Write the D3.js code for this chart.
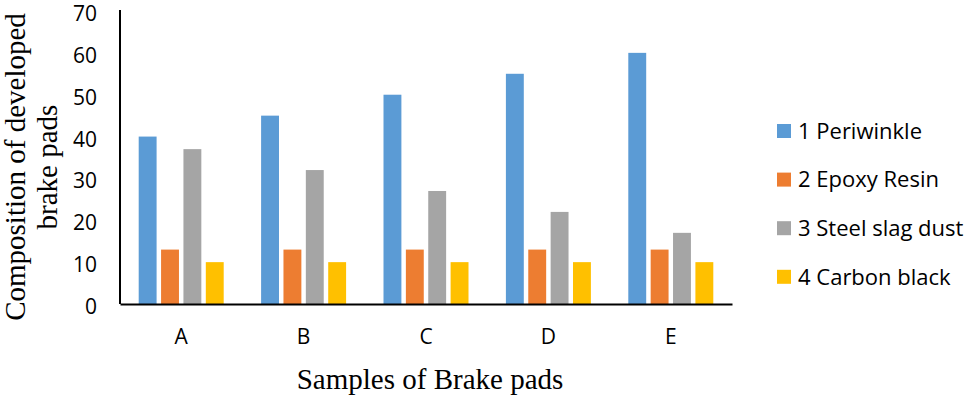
<!DOCTYPE html>
<html>
<head>
<meta charset="utf-8">
<script src="https://cdn.jsdelivr.net/npm/d3@7"></script>
<style>
  body { margin: 0; background: #fff; }
  svg { display: block; }
</style>
</head>
<body>
<div id="chart"></div>
<script>
// Data
const samples = ['A', 'B', 'C', 'D', 'E'];
const seriesNames = ['1 Periwinkle', '2 Epoxy Resin', '3 Steel slag dust', '4 Carbon black'];
const periwinkle = [40, 45, 50, 55, 60];
const epoxyResin = [13, 13, 13, 13, 13];
const steelSlagDust = [37, 32, 27, 22, 17];
const carbonBlack = [10, 10, 10, 10, 10];
const yTicks = [0, 10, 20, 30, 40, 50, 60, 70];
const colors = ['#5B9BD5', '#ED7D31', '#A5A5A5', '#FFC000'];

const seriesValues = [periwinkle, epoxyResin, steelSlagDust, carbonBlack];
const rows = samples.map((s, i) => ({
    sample: s,
    values: seriesNames.map((name, j) => ({ name, value: seriesValues[j][i] }))
}));

const W = 970, H = 397;
const margin = { top: 11, right: 238, bottom: 94, left: 120 };
const groupWidth = 85;

const svg = d3.select('#chart')
    .append('svg')
    .attr('width', W)
    .attr('height', H);

const xScale = d3.scaleBand()
    .domain(samples)
    .range([margin.left, W - margin.right]);

const x1 = d3.scaleBand()
    .domain(seriesNames)
    .range([0, groupWidth])
    .paddingInner(0.2);

const yScale = d3.scaleLinear()
    .domain([0, 70])
    .range([H - margin.bottom + 1, margin.top]);

const uiFont = "'Open Sans', 'Liberation Sans', sans-serif";
const serifFont = "'Liberation Serif', 'DejaVu Serif', serif";

// Bars
svg.append('g')
    .selectAll('g')
    .data(rows)
    .join('g')
    .attr('transform', d => `translate(${xScale(d.sample) + (xScale.bandwidth() - groupWidth) / 2},0)`)
    .selectAll('rect')
    .data(d => d.values)
    .join('rect')
        .attr('x', d => x1(d.name))
        .attr('width', x1.bandwidth())
        .attr('y', d => yScale(d.value))
        .attr('height', d => yScale(0) - yScale(d.value))
        .attr('fill', (d, i) => colors[i]);

// Y axis
const yAxis = svg.append('g')
    .attr('transform', `translate(${margin.left},0)`)
    .call(d3.axisLeft(yScale).tickValues(yTicks).tickSize(0).tickPadding(23));
yAxis.select('.domain').attr('stroke', '#000').attr('stroke-width', 2)
    .attr('d', `M0,${yScale(70) - 1}V${yScale(0)}`);
yAxis.selectAll('text')
    .attr('dy', '0.45em')
    .style('font-family', uiFont)
    .style('font-size', '21px')
    .attr('fill', '#000');

// X axis
const xAxis = svg.append('g')
    .attr('transform', `translate(0,${yScale(0)})`)
    .call(d3.axisBottom(xScale).tickSize(0).tickPadding(25));
xAxis.select('.domain').attr('stroke', '#000').attr('stroke-width', 2);
xAxis.selectAll('text')
    .style('font-family', uiFont)
    .style('font-size', '21px')
    .attr('fill', '#000');

// Axis titles
const yTitle = svg.append('text')
    .attr('transform', 'translate(15,167) rotate(-90)')
    .attr('text-anchor', 'middle')
    .style('font-family', serifFont)
    .style('font-size', '29px');
yTitle.append('tspan').attr('x', 0).attr('dy', '0.35em').text('Composition of developed');
yTitle.append('tspan').attr('x', 0).attr('dy', '1.1em').text('brake pads');

svg.append('text')
    .attr('x', 430)
    .attr('y', 389)
    .attr('text-anchor', 'middle')
    .style('font-family', serifFont)
    .style('font-size', '29px')
    .text('Samples of Brake pads');

// Legend
const legend = svg.append('g')
    .selectAll('g')
    .data(seriesNames)
    .join('g')
    .attr('transform', (d, i) => `translate(777,${131 + i * 48.6})`);
legend.append('rect')
    .attr('y', -7)
    .attr('width', 14)
    .attr('height', 14)
    .attr('fill', (d, i) => colors[i]);
legend.append('text')
    .attr('x', 21)
    .attr('dy', '0.35em')
    .style('font-family', uiFont)
    .style('font-size', '22px')
    .text(d => d);
</script>
</body>
</html>
